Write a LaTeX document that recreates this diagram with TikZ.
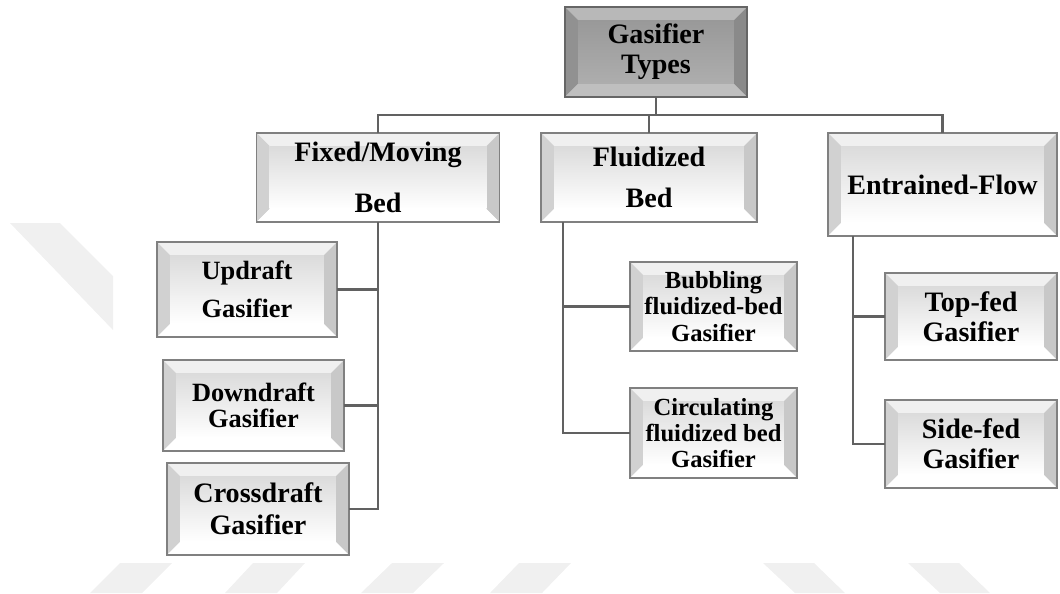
\documentclass[tikz,border=0pt]{standalone}
\usepackage{fontspec}
\setmainfont{Liberation Serif}
\usetikzlibrary{calc}
\definecolor{wmark}{gray}{0.94}
\tikzset{
  bevel/.style n args={6}{path picture={
      \coordinate (bsw) at (path picture bounding box.south west);
      \coordinate (bne) at (path picture bounding box.north east);
      \coordinate (isw) at ($(bsw)+(7.5pt,7.5pt)$);
      \coordinate (ine) at ($(bne)+(-7.5pt,-7.5pt)$);
      \fill[#1] (bsw |- bne) -- (bne) -- (ine) -- (isw |- ine) -- cycle;
      \fill[#2] (bsw) -- (bsw |- bne) -- (isw |- ine) -- (isw) -- cycle;
      \fill[#3] (bne) -- (bne |- bsw) -- (ine |- isw) -- (ine) -- cycle;
      \fill[#4] (bsw) -- (bne |- bsw) -- (ine |- isw) -- (isw) -- cycle;
      \shade[top color=#5, bottom color=#6] (isw) rectangle (ine);
    }},
  litebox/.style={draw=black!50, line width=0.9pt, inner sep=0pt, outer sep=0pt,
    align=center, font=\bfseries\fontsize{16}{17}\selectfont,
    bevel={gray!12}{gray!36}{gray!43}{white}{gray!28}{white}},
  darkbox/.style={litebox, draw=black!60,
    bevel={gray!56}{gray!86}{gray!92}{gray!50}{gray!80}{gray!64}},
  conn/.style={draw=black!62, line width=1.3pt}
}
\begin{document}
\begin{tikzpicture}[x=0.02cm, y=-0.02cm]
  \useasboundingbox (0,0) rectangle (1060,593);
  % watermark
  \fill[wmark] (10,223) -- (60,223) -- (113,276) -- (113,330) -- cycle;
  \foreach \a/\b in {120/90, 253/225, 392/361, 519/490}
    \fill[wmark] (\a,563) -- (\a+52,563) -- (\b+52,593) -- (\b,593) -- cycle;
  \foreach \a/\b in {763/795, 908/940}
    \fill[wmark] (\a,563) -- (\a+51,563) -- (\b+50,593) -- (\b,593) -- cycle;
  % top
  \node[darkbox, minimum width=3.64cm, minimum height=1.8cm] (types) at (656,52) {Gasifier\\Types};
  % main families
  \node[litebox, minimum width=4.86cm, minimum height=1.78cm] (fixed) at (378,177.5) {Fixed/Moving\\[12pt]Bed};
  \node[litebox, minimum width=4.32cm, minimum height=1.78cm] (fluid) at (649,177.5) {Fluidized\\[6pt]Bed};
  \node[litebox, minimum width=4.58cm, minimum height=2.06cm] (entr) at (942.5,184.5) {Entrained-Flow};
  % fixed bed types
  \node[litebox, font=\bfseries\fontsize{15}{17}\selectfont, minimum width=3.6cm, minimum height=1.9cm] (updraft) at (247,289.5) {Updraft\\[5pt]Gasifier};
  \node[litebox, font=\bfseries\fontsize{15}{15}\selectfont, minimum width=3.62cm, minimum height=1.82cm] (down) at (253.5,405.5) {Downdraft\\Gasifier};
  \node[litebox, font=\bfseries\fontsize{16}{18}\selectfont, minimum width=3.64cm, minimum height=1.84cm] (cross) at (258,509) {Crossdraft\\Gasifier};
  % fluidized bed types
  \node[litebox, font=\bfseries\fontsize{14}{15}\selectfont, minimum width=3.34cm, minimum height=1.78cm] (bubb) at (713.5,306.5) {Bubbling\\fluidized-bed\\Gasifier};
  \node[litebox, font=\bfseries\fontsize{14}{15}\selectfont, minimum width=3.34cm, minimum height=1.8cm] (circ) at (713.5,433) {Circulating\\fluidized bed\\Gasifier};
  % entrained flow types
  \node[litebox, minimum width=3.44cm, minimum height=1.74cm] (topfed) at (971,316.5) {Top-fed\\Gasifier};
  \node[litebox, minimum width=3.44cm, minimum height=1.76cm] (sidefed) at (971,444) {Side-fed\\Gasifier};
  % connectors
  \coordinate (bus) at ($(types.south)+(0,18)$);
  \draw[conn] (types.south) -- (bus);
  \draw[conn] (fixed.north) |- (bus) -| (entr.north);
  \draw[conn] (fluid.north) -- (fluid.north |- bus);
  \draw[conn] (fixed.south) |- (cross.east);
  \draw[conn] (updraft.east) -- (updraft.east -| fixed.south);
  \draw[conn] (down.east) -- (down.east -| fixed.south);
  \coordinate (ftrunk) at ($(fluid.south west)+(22,0)$);
  \draw[conn] (ftrunk) |- (circ.west);
  \draw[conn] (bubb.west) -- (bubb.west -| ftrunk);
  \coordinate (etrunk) at ($(entr.south west)+(25,0)$);
  \draw[conn] (etrunk) |- (sidefed.west);
  \draw[conn] (topfed.west) -- (topfed.west -| etrunk);
\end{tikzpicture}
\end{document}
